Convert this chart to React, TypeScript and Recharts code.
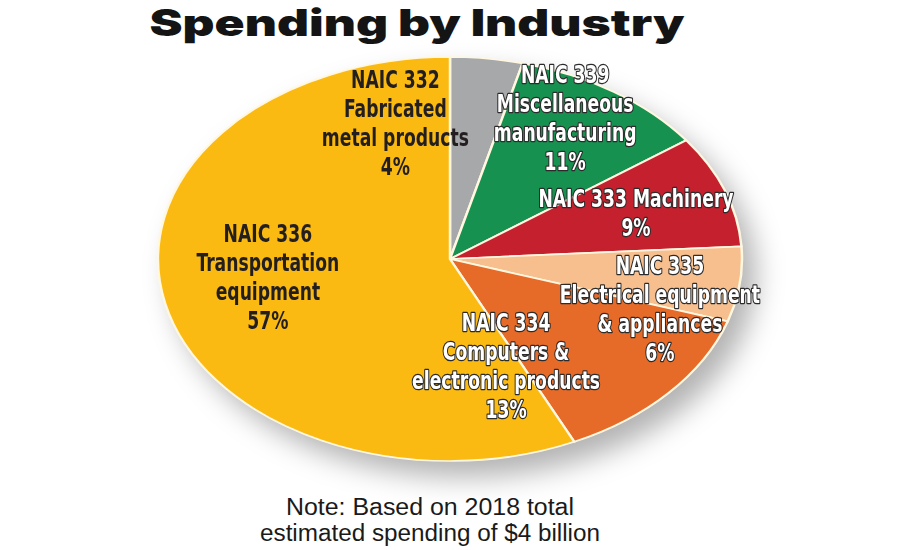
import { PieChart, Pie, Cell } from "recharts";

const CODES = ["NAIC 332", "NAIC 339", "NAIC 333", "NAIC 335", "NAIC 334", "NAIC 336"];
const NAMES = [
  ["Fabricated", "metal products"],
  ["Miscellaneous", "manufacturing"],
  ["Machinery"],
  ["Electrical equipment", "& appliances"],
  ["Computers &", "electronic products"],
  ["Transportation", "equipment"],
];
const SHARES = [4, 11, 9, 6, 13, 57];

const COLORS = [
  "#a7a8aa", // gray
  "#179150", // green
  "#c4202d", // red
  "#f8bf8e", // light orange
  "#e66a28", // orange
  "#fbba12", // yellow
];

// slices whose labels are written in dark ink
const DARK_LABEL = [true, false, false, false, false, true];

// where each label sits: angle shift from the slice middle (deg, clockwise) and radius fraction
const LABEL_PLACE = [
  { shift: -22.7, r: 0.7 },
  { shift: -4.9, r: 0.806 },
  { shift: 0, r: 0.677 },
  { shift: 11.5, r: 0.759 },
  { shift: 28.5, r: 0.559 },
  { shift: 4.5, r: 0.63 },
];

const data = CODES.map((code, i) => ({
  code,
  lines: i === 2 ? [`${code} ${NAMES[i][0]}`] : [code, ...NAMES[i]],
  value: SHARES[i],
}));

const R = 292;
const SY = 202 / 292;
const CX = 450;
const CY = 259;
const BOX = 720;
const LINE_H = 29;
const SX = 0.78; // squeeze the condensed font a bit more
const LABEL_FONT = "'Liberation Sans Narrow', 'DejaVu Sans Condensed', sans-serif";

const renderLabel = (props: any) => {
  const { cx, cy, midAngle, outerRadius, index } = props;
  const place = LABEL_PLACE[index];
  const a = ((midAngle - place.shift) * Math.PI) / 180;
  const x = cx + outerRadius * place.r * Math.cos(a);
  const y = cy - outerRadius * place.r * Math.sin(a);
  const lines = [...data[index].lines, `${data[index].value}%`];
  const dark = DARK_LABEL[index];
  const first = -((lines.length - 1) / 2) * LINE_H + 9;
  return (
    <g key={`lbl-${index}`} transform={`translate(${x},${y}) scale(${SX},${1 / SY})`}>
      <text
        textAnchor="middle"
        fontFamily={LABEL_FONT}
        fontWeight="bold"
        fontSize={24.5}
        fill={dark ? "#231f20" : "#ffffff"}
        stroke={dark ? "none" : "#2b2b2b"}
        strokeWidth={dark ? 0 : 2.6}
        paintOrder="stroke"
        strokeLinejoin="round"
      >
        {lines.map((ln, k) => (
          <tspan key={k} x={0} y={first + k * LINE_H}>
            {ln}
          </tspan>
        ))}
      </text>
    </g>
  );
};

export default function App() {
  return (
    <div
      style={{
        position: "absolute",
        left: 0,
        top: 0,
        width: 900,
        height: 550,
        overflow: "hidden",
        background: "#ffffff",
      }}
    >
      {/* soft drop shadow under the pie */}
      <div
        style={{
          position: "absolute",
          left: CX - R + 14,
          top: CY - R * SY + 16,
          width: 2 * R,
          height: 2 * R * SY,
          borderRadius: "50%",
          background: "rgba(0,0,0,0.3)",
          filter: "blur(14px)",
        }}
      />
      <div
        style={{
          position: "absolute",
          left: CX - BOX / 2,
          top: CY - BOX / 2,
          width: BOX,
          height: BOX,
          transform: `scaleY(${SY})`,
          transformOrigin: "50% 50%",
        }}
      >
        <PieChart width={BOX} height={BOX} margin={{ top: 0, right: 0, bottom: 0, left: 0 }}>
          <Pie
            data={data}
            dataKey="value"
            nameKey="code"
            cx="50%"
            cy="50%"
            innerRadius={0}
            outerRadius={R}
            startAngle={90}
            endAngle={-270}
            stroke="#fff7df"
            strokeWidth={2.5}
            label={renderLabel}
            labelLine={false}
            isAnimationActive={false}
          >
            {data.map((_, i) => (
              <Cell key={`cell-${i}`} fill={COLORS[i]} />
            ))}
          </Pie>
        </PieChart>
      </div>
      <svg
        width={900}
        height={550}
        style={{ position: "absolute", left: 0, top: 0, pointerEvents: "none" }}
      >
        <text
          x={417}
          y={36}
          textAnchor="middle"
          fontFamily="Inter, 'Liberation Sans', sans-serif"
          fontWeight={900}
          fontSize={37}
          fill="#141414"
          textLength={535}
          lengthAdjust="spacingAndGlyphs"
        >
          Spending by Industry
        </text>
        <text
          x={430}
          y={515}
          textAnchor="middle"
          fontFamily="'Liberation Sans', Arial, sans-serif"
          fontSize={23}
          fill="#1a1a1a"
          textLength={288}
          lengthAdjust="spacingAndGlyphs"
        >
          Note: Based on 2018 total
        </text>
        <text
          x={430}
          y={541}
          textAnchor="middle"
          fontFamily="'Liberation Sans', Arial, sans-serif"
          fontSize={23}
          fill="#1a1a1a"
          textLength={340}
          lengthAdjust="spacingAndGlyphs"
        >
          estimated spending of $4 billion
        </text>
      </svg>
    </div>
  );
}
